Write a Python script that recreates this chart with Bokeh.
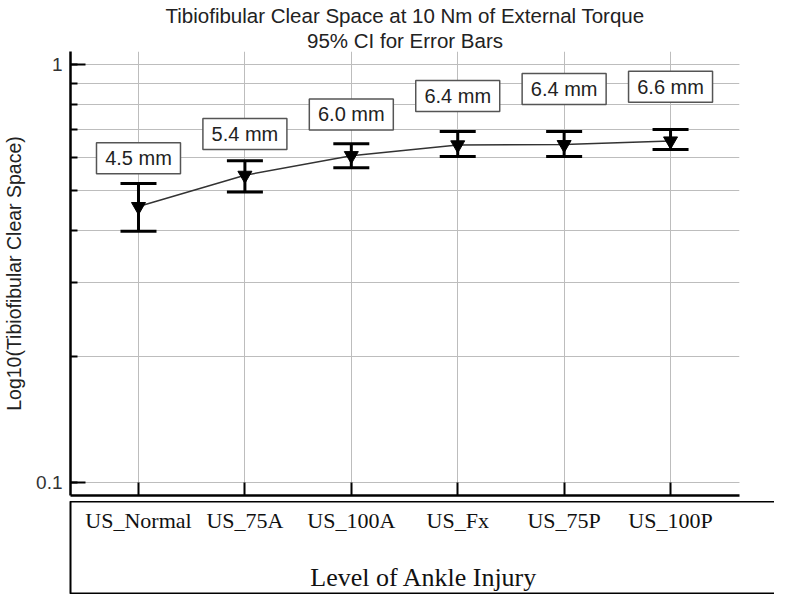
from bokeh.plotting import figure
from bokeh.models import Range1d, FixedTicker, CustomJSTickFormatter, Title
from bokeh.layouts import column
from bokeh.embed import file_html
from bokeh.resources import INLINE
from bokeh.core.properties import value

# ---- data ----
categories = ["US_Normal", "US_75A", "US_100A", "US_Fx", "US_75P", "US_100P"]
medians = [0.457, 0.543, 0.605, 0.642, 0.643, 0.656]
ci_upper = [0.519, 0.588, 0.646, 0.691, 0.691, 0.699]
ci_lower = [0.399, 0.495, 0.566, 0.602, 0.602, 0.626]
label_texts = ["4.5 mm", "5.4 mm", "6.0 mm", "6.4 mm", "6.4 mm", "6.6 mm"]
label_y = [0.596, 0.682, 0.759, 0.841, 0.874, 0.884]
y_major_ticks = [0.1, 1]
y_minor_ticks = [0.1, 0.2, 0.3, 0.4, 0.5, 0.6, 0.7, 0.8, 0.9, 1.0]
title_lines = ["Tibiofibular Clear Space at 10 Nm of External Torque",
               "95% CI for Error Bars"]

xs = list(range(1, len(categories) + 1))

SANS = value("Liberation Sans")
SERIF = value("Liberation Serif")

X0, X1 = 0.361, 6.648
PX_PER_UNIT = 669 / (X1 - X0)

p = figure(frame_width=669, frame_height=444, y_axis_type="log",
           x_range=Range1d(X0, X1), y_range=Range1d(0.0930, 1.074),
           output_backend="svg", toolbar_location=None,
           min_border_left=66, min_border_right=36, min_border_top=51,
           min_border_bottom=6)
p.outline_line_color = None

# two-line centred title (second line added first: it sits nearer the plot)
for line in reversed(title_lines):
    t = Title(text=line, align="center", text_font="Liberation Sans",
              text_font_size="20.5px", text_font_style="normal",
              text_color="#222222", offset=0, standoff=0)
    p.add_layout(t, "above")

# y axis
p.yaxis.ticker = FixedTicker(ticks=y_major_ticks, minor_ticks=y_minor_ticks)
p.yaxis.formatter = CustomJSTickFormatter(code="return String(tick);")
p.yaxis.axis_label = "Log10(Tibiofibular Clear Space)"
p.yaxis.axis_label_text_font = "Liberation Sans"
p.yaxis.axis_label_text_font_size = "19.5px"
p.yaxis.axis_label_text_font_style = "normal"
p.yaxis.axis_label_text_color = "#222222"
p.yaxis.axis_label_standoff = 8
p.yaxis.major_label_text_font = "Liberation Sans"
p.yaxis.major_label_text_font_size = "19px"
p.yaxis.major_label_text_color = "#333333"
p.yaxis.major_label_standoff = 8
p.yaxis.major_tick_in = 15
p.yaxis.major_tick_out = 0
p.yaxis.minor_tick_in = 7
p.yaxis.minor_tick_out = 0
p.yaxis.axis_line_width = 2.5
p.yaxis.major_tick_line_width = 2
p.yaxis.minor_tick_line_width = 2

# x axis (category labels are drawn in the box below)
p.xaxis.ticker = FixedTicker(ticks=xs, minor_ticks=[])
p.xaxis.formatter = CustomJSTickFormatter(code="return '';")
p.xaxis.major_label_standoff = 0
p.xaxis.major_tick_in = 13
p.xaxis.major_tick_out = 0
p.xaxis.axis_line_width = 2.5
p.xaxis.major_tick_line_width = 2

p.xgrid.grid_line_color = "#bdbdbd"
p.ygrid.grid_line_color = "#bdbdbd"
p.ygrid.minor_grid_line_color = "#bdbdbd"

# connecting line
p.line(xs, medians, line_color="#333333", line_width=1.5)
# error bars
p.segment(xs, ci_lower, xs, ci_upper, line_color="black", line_width=3)
p.dash(xs, ci_upper, size=36, line_color="black", line_width=3)
p.dash(xs, ci_lower, size=36, line_color="black", line_width=3)
# markers
p.scatter(xs, medians, marker="inverted_triangle", size=14,
          fill_color="black", line_color="black")

# value labels
p.rect(xs, label_y, width=84, height=31, width_units="screen", height_units="screen",
       fill_color="white", line_color="#555555", line_width=1.5)
p.text(xs, label_y, text=label_texts, text_align="center", text_baseline="middle",
       text_font=SANS, text_font_size="20px", text_color="#222222")

# bottom box with category labels (frame left edge is aligned with the plot above)
BOX_W = 707
BOX_H = 92
q = figure(frame_width=BOX_W, frame_height=BOX_H,
           x_range=Range1d(X0, X0 + BOX_W / PX_PER_UNIT), y_range=Range1d(0, BOX_H),
           output_backend="svg", toolbar_location=None,
           min_border_left=66, min_border_right=1, min_border_top=0, min_border_bottom=1)
q.axis.visible = False
q.grid.visible = False
q.outline_line_color = "black"
q.outline_line_width = 2
q.text(xs, [BOX_H - 19] * len(xs), text=categories, text_align="center",
       text_baseline="middle", text_font=SERIF, text_font_size="22px",
       text_color="#111111")
q.text([X0 + BOX_W / PX_PER_UNIT / 2], [16], text=["Level of Ankle Injury"],
       text_align="center", text_baseline="middle", text_font=SERIF,
       text_font_size="26px", text_color="#111111")

layout = column(p, q, spacing=0)
open("out.html", "w").write(file_html(layout, INLINE))
